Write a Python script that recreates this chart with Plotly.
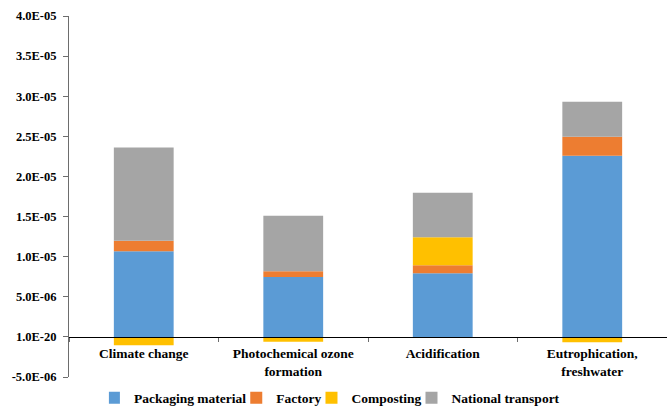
import plotly.graph_objects as go

categories = ["Climate change", "Photochemical ozone<br>formation", "Acidification", "Eutrophication,<br>freshwater"]
packaging = [1.067e-5, 7.48e-6, 7.93e-6, 2.257e-5]
factory = [1.30e-6, 0.70e-6, 1.00e-6, 2.37e-6]
composting = [-1.05e-6, -0.62e-6, 3.49e-6, -0.67e-6]
transport = [1.163e-5, 6.91e-6, 5.54e-6, 4.36e-6]

tick_vals = [-5e-6, 0, 5e-6, 1e-5, 1.5e-5, 2e-5, 2.5e-5, 3e-5, 3.5e-5, 4e-5]
tick_text = ["-5.0E-06", "1.0E-20", "5.0E-06", "1.0E-05", "1.5E-05", "2.0E-05", "2.5E-05", "3.0E-05", "3.5E-05", "4.0E-05"]

series = [
    ("Packaging material", packaging, "#5B9BD5"),
    ("Factory", factory, "#ED7D31"),
    ("Composting", composting, "#FFC000"),
    ("National transport", transport, "#A5A5A5"),
]

fig = go.Figure()
for name, vals, color in series:
    fig.add_trace(go.Bar(x=categories, y=vals, name=name, marker=dict(color=color, line=dict(width=0)), width=0.4))

font = "Liberation Serif, Times New Roman, serif"
fig.update_layout(
    barmode="relative",
    width=667, height=406,
    margin=dict(l=69, r=0, t=16, b=29, autoexpand=False),
    plot_bgcolor="white", paper_bgcolor="white",
    font=dict(family=font, size=12, color="black", weight="bold"),
    showlegend=True,
    legend=dict(orientation="h", x=0.448, xanchor="center", y=-0.058, yanchor="middle",
                font=dict(family=font, size=13.5, color="black", weight="bold"), traceorder="normal",
                itemwidth=30, indentation=-15),
    xaxis=dict(anchor="free", position=5/45, showline=True, linecolor="black", linewidth=1,
               ticks="outside", tickson="boundaries", ticklen=4, tickcolor="#6d6d6d",
               ticklabelstandoff=4,
               tickfont=dict(family=font, size=13.5, color="black", weight="bold"),
               showgrid=False, range=[-0.5, 3.5], automargin=False),
    yaxis=dict(range=[-5e-6, 4e-5], tickvals=tick_vals, ticktext=tick_text,
               showline=True, linecolor="#6d6d6d", linewidth=1, ticks="outside", ticklen=5,
               tickcolor="#6d6d6d", showgrid=False, zeroline=False, automargin=False,
               ticklabelstandoff=4,
               tickfont=dict(family=font, size=12.5, color="black", weight="bold")),
)

fig.write_html("out.html")
